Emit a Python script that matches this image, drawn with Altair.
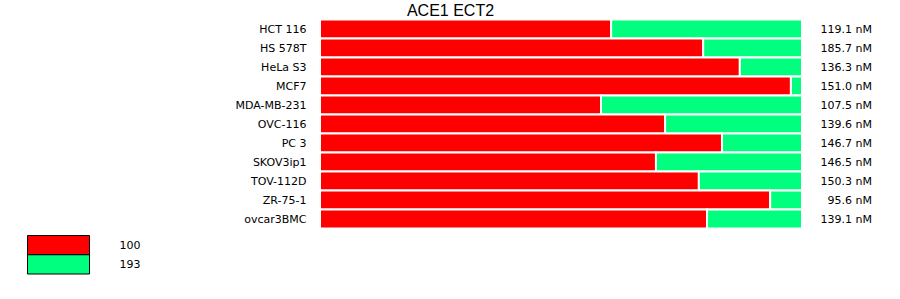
import altair as alt
import pandas as pd

cell_lines = ["HCT 116", "HS 578T", "HeLa S3", "MCF7", "MDA-MB-231", "OVC-116",
              "PC 3", "SKOV3ip1", "TOV-112D", "ZR-75-1", "ovcar3BMC"]
red_pct = [60.4, 79.5, 87.1, 97.7, 58.3, 71.6, 83.4, 69.7, 78.6, 93.4, 80.3]
nm_labels = ["119.1 nM", "185.7 nM", "136.3 nM", "151.0 nM", "107.5 nM", "139.6 nM",
             "146.7 nM", "146.5 nM", "150.3 nM", "95.6 nM", "139.1 nM"]
series_names = ["100", "193"]
series_colors = ["#FF0000", "#00FF7F"]
title_text = "ACE1 ECT2"

rows = []
for c, r in zip(cell_lines, red_pct):
    rows.append({"cell": c, "series": series_names[0], "start": 0.0, "end": r})
    rows.append({"cell": c, "series": series_names[1], "start": r, "end": 100.0})
df = pd.DataFrame(rows)
lab = pd.DataFrame({"cell": cell_lines, "label": nm_labels})
ttl = pd.DataFrame({"t": [title_text]})
leg = pd.DataFrame({"series": series_names})

W, H = 482, 209

color_enc = alt.Color("series:N", scale=alt.Scale(domain=series_names, range=series_colors),
                      legend=None)

y_enc = alt.Y(
    "cell:N", sort=cell_lines,
    scale=alt.Scale(paddingInner=0, paddingOuter=0),
    axis=alt.Axis(title=None, ticks=False, domain=False, labelPadding=14, labelOffset=1,
                  labelFont="DejaVu Sans", labelFontSize=11, labelColor="black"),
)

bars = alt.Chart(df).mark_rect(stroke="white", strokeWidth=2).encode(
    x=alt.X("start:Q", scale=alt.Scale(domain=[0, 100], nice=False, zero=True), axis=None),
    x2="end:Q",
    y=y_enc,
    color=color_enc,
)

txt = alt.Chart(lab).mark_text(
    align="right", baseline="middle", font="DejaVu Sans", fontSize=11, color="black",
    dy=1,
).encode(
    y=alt.Y("cell:N", sort=cell_lines),
    text="label:N",
    x=alt.value(552),
)

title_mark = alt.Chart(ttl).mark_text(
    align="center", baseline="alphabetic", font="Liberation Sans", fontSize=16,
    color="black"
).encode(
    text="t:N",
    x=alt.value(130.5),
    y=alt.value(-4),
)

main = alt.layer(bars, txt, title_mark)

leg_y = alt.Y("series:N", sort=series_names,
              scale=alt.Scale(domain=series_names, range=[216, 254.5],
                              paddingInner=0, paddingOuter=0),
              axis=None)

leg_rect = alt.Chart(leg).mark_rect(stroke="black", strokeWidth=1).encode(
    y=leg_y,
    x=alt.value(-292.5),
    x2=alt.value(-230.5),
    color=color_enc,
)
leg_text = alt.Chart(leg).mark_text(
    align="left", baseline="middle", font="DejaVu Sans", fontSize=11, color="black",
    dy=1,
).encode(
    y=leg_y,
    x=alt.value(-200.5),
    text="series:N",
)
legend_layer = alt.layer(leg_rect, leg_text)

chart = alt.layer(main, legend_layer).resolve_scale(y="independent").properties(
    width=W, height=H,
    autosize=alt.AutoSizeParams(type="none"),
    padding={"left": 320, "top": 19.5, "right": 98, "bottom": 70.5},
).configure_view(stroke=None)

chart.save("out.html", embed_options={"renderer": "svg", "actions": False})
